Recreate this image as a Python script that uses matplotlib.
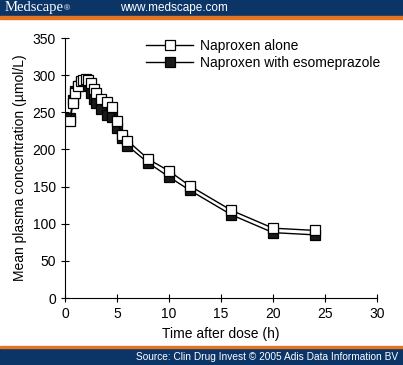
import matplotlib
matplotlib.use("Agg")
import matplotlib.pyplot as plt
from matplotlib.patches import Rectangle

plt.rcParams['font.family'] = ['Liberation Sans', 'DejaVu Sans']

# sampling times (h)
times = [0.5, 0.75, 1, 1.25, 1.5, 1.75, 2, 2.25, 2.5, 2.75, 3, 3.5, 4, 4.5,
         5, 5.5, 6, 8, 10, 12, 16, 20, 24]
# mean plasma concentration (umol/L)
alone = [238, 262, 276, 285, 292, 294, 295, 293, 290, 282, 276, 268, 264, 257,
         238, 220, 212, 187, 171, 151, 118, 94, 91]
with_eso = [242, 267, 278, 286, 291, 291, 290, 285, 276, 268, 262, 255, 246, 244,
            229, 215, 205, 182, 163, 145, 112, 88, 85]

xticks = [0, 5, 10, 15, 20, 25, 30]
yticks = [0, 50, 100, 150, 200, 250, 300, 350]

navy = '#0c3567'
orange = '#e4741f'

fig = plt.figure(figsize=(4.03, 3.65), dpi=100)

# header / footer bands
fig.patches.append(Rectangle((0, 1 - 16/365), 1, 16/365, transform=fig.transFigure,
                             color=navy, zorder=0))
fig.patches.append(Rectangle((0, 1 - 18.5/365), 1, 2.5/365, transform=fig.transFigure,
                             color=orange, zorder=0))
fig.patches.append(Rectangle((0, 0), 1, 17/365, transform=fig.transFigure,
                             color=navy, zorder=0))
fig.patches.append(Rectangle((0, 17/365), 1, 2.5/365, transform=fig.transFigure,
                             color=orange, zorder=0))
fig.text(5/403, 1 - 8/365, 'Medscape', color='white', fontsize=10.5,
         family='Liberation Serif', va='center')
fig.text(64/403, 1 - 9/365, '®', color='white', fontsize=6, va='center')
fig.text(120/403, 1 - 8/365, 'www.medscape.com', color='white', fontsize=8.5, va='center')
fig.text(398/403, 8/365, 'Source: Clin Drug Invest © 2005 Adis Data Information BV',
         color='white', fontsize=7.3, ha='right', va='center')

ax = fig.add_axes([65/403, 1 - 298/365, 312/403, 260/365])
ax.plot(times, alone, color='black', lw=1, marker='s', ms=7.5,
        mfc='white', mec='black', mew=0.9, label='Naproxen alone', zorder=3)
ax.plot(times, with_eso, color='black', lw=1, marker='s', ms=7.5,
        mfc='#1a1a1a', mec='black', mew=0.9, label='Naproxen with esomeprazole', zorder=2)

ax.set_xlim(0, 30)
ax.set_ylim(0, 350)
ax.set_xticks(xticks)
ax.set_yticks(yticks)
ax.spines['top'].set_visible(False)
ax.spines['right'].set_visible(False)
ax.tick_params(direction='inout', length=6, width=0.8, labelsize=10)
ax.set_xlabel('Time after dose (h)', fontsize=10)
ax.set_ylabel('Mean plasma concentration (µmol/L)', fontsize=10)

ax.legend(loc='upper left', bbox_to_anchor=(0.22, 1.045), frameon=False,
          fontsize=10, handlelength=3.4, handletextpad=0.5, labelspacing=0.2)

fig.savefig('out.png', dpi=100)
